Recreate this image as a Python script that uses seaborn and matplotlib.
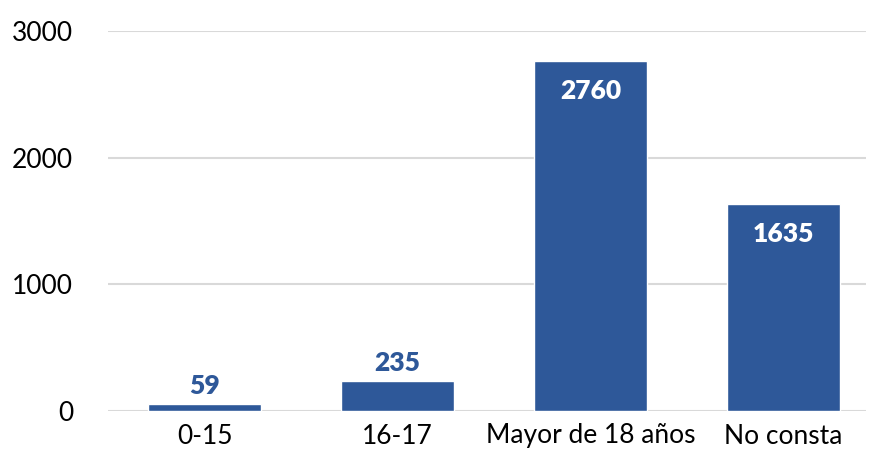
import matplotlib
matplotlib.use("Agg")
import matplotlib.pyplot as plt
import seaborn as sns
import pandas as pd

categories = ["0-15", "16-17", "Mayor de 18 años", "No consta"]
values = [59, 235, 2760, 1635]
yticks = [0, 1000, 2000, 3000]

bar_color = "#2E5899"

sns.set_theme(style="white")
plt.rcParams["font.family"] = ["Lato", "DejaVu Sans"]

df = pd.DataFrame({"cat": categories, "val": values})

fig = plt.figure(figsize=(8.72, 4.5), dpi=100)
ax = fig.add_axes([108 / 872, 1 - 411 / 450, (866 - 108) / 872, (411 - 31) / 450])

sns.barplot(data=df, x="cat", y="val", color=bar_color, saturation=1, width=0.585, ax=ax, zorder=3)

ax.set_ylim(0, 3000)
ax.set_xlim(-0.5, (866 - 108) / 193 - 0.5)
ax.set_yticks(yticks)
ax.set_yticklabels([str(t) for t in yticks])
ax.yaxis.grid(True, color="#D9D9D9", linewidth=1.5, zorder=0)
ax.set_axisbelow(True)
for s in ax.spines.values():
    s.set_visible(False)
ax.set_xlabel("")
ax.set_ylabel("")
ax.tick_params(axis="y", length=0, pad=25, labelsize=19, labelcolor="black")
ax.tick_params(axis="x", length=0, pad=9, labelsize=19, labelcolor="black")

for i, v in enumerate(values):
    if v > 1000:
        ax.annotate(str(v), (i, v), xytext=(0, -30), textcoords="offset pixels",
                    ha="center", va="center", color="white", fontsize=19, fontweight="heavy")
    else:
        ax.annotate(str(v), (i, v), xytext=(0, 18), textcoords="offset pixels",
                    ha="center", va="center", color=bar_color, fontsize=19, fontweight="heavy")

fig.savefig("out.png", dpi=100)
